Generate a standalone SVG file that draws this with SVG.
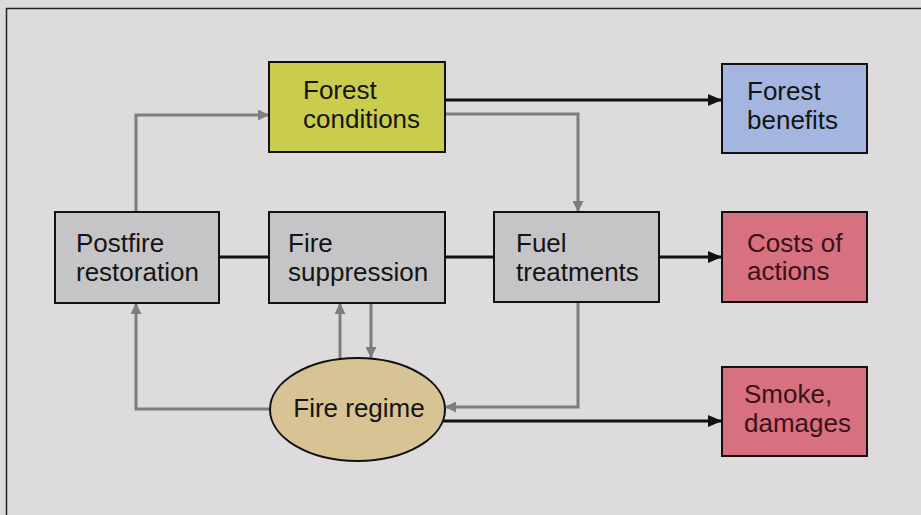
<svg xmlns="http://www.w3.org/2000/svg" width="921" height="515" viewBox="0 0 921 515">
<defs>
<style>
.box{stroke:#111;stroke-width:2}
.t{font-family:"Liberation Sans",Arial,sans-serif;font-size:26px;fill:#141414}
.tr{fill:#3a1216}
.blk{fill:none;stroke:#111;stroke-width:3}
.gry{fill:none;stroke:#7d7c80;stroke-width:3}
</style>
<marker id="ab" viewBox="0 0 14 12" refX="14" refY="6" markerWidth="14" markerHeight="12" markerUnits="userSpaceOnUse" orient="auto">
<path d="M0,0 L14,6 L0,12 Z" fill="#111"/>
</marker>
<marker id="ag" viewBox="0 0 11 11" refX="11" refY="5.5" markerWidth="11" markerHeight="11" markerUnits="userSpaceOnUse" orient="auto">
<path d="M0,0 L11,5.5 L0,11 Z" fill="#7d7c80"/>
</marker>
</defs>
<rect x="0" y="0" width="921" height="515" fill="#dddbdc"/>
<rect x="6.5" y="8.5" width="930" height="530" fill="none" stroke="#222" stroke-width="1.5"/>
<g id="connectors">
<path class="blk" d="M445,100 H722" marker-end="url(#ab)"/>
<path class="gry" d="M445,114 H578 V212" marker-end="url(#ag)"/>
<path class="gry" d="M136,212 V115 H269" marker-end="url(#ag)"/>
<path class="blk" d="M219,257 H269"/>
<path class="blk" d="M445,257 H494"/>
<path class="blk" d="M659,257 H722" marker-end="url(#ab)"/>
<path class="gry" d="M271,409 H136 V303" marker-end="url(#ag)"/>
<path class="gry" d="M340,360 V303" marker-end="url(#ag)"/>
<path class="gry" d="M371,303 V358" marker-end="url(#ag)"/>
<path class="gry" d="M578,302 V407 H445" marker-end="url(#ag)"/>
<path class="blk" d="M443,421 H722" marker-end="url(#ab)"/>
</g>
<g id="forest-conditions">
<rect class="box" x="269" y="62" width="176" height="90" fill="#c9cc4c"/>
<text class="t" x="303" y="99">Forest</text>
<text class="t" x="303" y="128">conditions</text>
</g>
<g id="forest-benefits">
<rect class="box" x="722" y="64" width="145" height="89" fill="#a4b6e0"/>
<text class="t" x="747" y="100">Forest</text>
<text class="t" x="747" y="129">benefits</text>
</g>
<g id="postfire-restoration">
<rect class="box" x="55" y="212" width="164" height="91" fill="#c5c5c7"/>
<text class="t" x="76" y="252">Postfire</text>
<text class="t" x="76" y="281">restoration</text>
</g>
<g id="fire-suppression">
<rect class="box" x="269" y="212" width="176" height="91" fill="#c5c5c7"/>
<text class="t" x="288" y="252">Fire</text>
<text class="t" x="288" y="281">suppression</text>
</g>
<g id="fuel-treatments">
<rect class="box" x="494" y="212" width="165" height="90" fill="#c5c5c7"/>
<text class="t" x="516" y="252">Fuel</text>
<text class="t" x="516" y="281">treatments</text>
</g>
<g id="costs-of-actions">
<rect class="box" x="722" y="212" width="145" height="90" fill="#d8717f"/>
<text class="t tr" x="747" y="252">Costs of</text>
<text class="t tr" x="747" y="280">actions</text>
</g>
<g id="fire-regime">
<ellipse class="box" cx="357.5" cy="409.5" rx="87.5" ry="51.5" fill="#d7c394"/>
<text class="t" x="359" y="417" text-anchor="middle">Fire regime</text>
</g>
<g id="smoke-damages">
<rect class="box" x="722" y="367" width="145" height="89" fill="#d8717f"/>
<text class="t tr" x="744" y="403">Smoke,</text>
<text class="t tr" x="744" y="432">damages</text>
</g>
</svg>
